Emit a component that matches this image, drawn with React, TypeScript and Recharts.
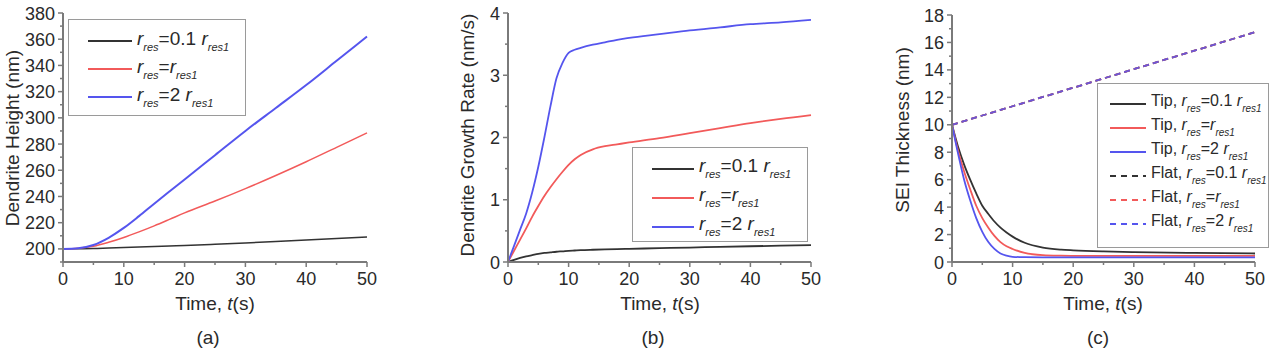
import React from 'react';
import { LineChart, Line, XAxis, YAxis, Legend } from 'recharts';

// ---------- data ----------
const timeA = [0, 2.5, 5, 7.5, 10, 12.5, 15, 17.5, 20, 25, 30, 35, 40, 45, 50];
const heightLow = [200, 200.1, 200.3, 200.6, 201, 201.4, 201.8, 202.2, 202.6, 203.5, 204.5, 205.6, 206.8, 207.9, 209];
const heightMid = [200, 200.5, 202, 205, 208.7, 213, 217.6, 222.5, 227.5, 236.5, 246, 256, 266.5, 277.5, 288.5];
const heightHigh = [200, 200.5, 203, 208.5, 216, 225, 234.5, 243.8, 253, 271.5, 290, 307.5, 325, 343.5, 362];

const timeB = [0, 1, 2, 3, 4, 5, 6, 7, 8, 9, 10, 11, 12, 14, 16, 18, 20, 25, 30, 35, 40, 45, 50];
const rateLow = [0, 0.035, 0.065, 0.09, 0.11, 0.13, 0.145, 0.155, 0.165, 0.172, 0.18, 0.185, 0.19, 0.197, 0.203, 0.208, 0.212, 0.222, 0.232, 0.243, 0.253, 0.262, 0.27];
const rateMid = [0, 0.18, 0.36, 0.54, 0.73, 0.9, 1.06, 1.2, 1.33, 1.45, 1.56, 1.65, 1.72, 1.81, 1.86, 1.89, 1.92, 1.99, 2.07, 2.15, 2.23, 2.3, 2.36];
const rateHigh = [0, 0.26, 0.52, 0.78, 1.12, 1.53, 2.0, 2.5, 2.95, 3.2, 3.36, 3.41, 3.44, 3.49, 3.53, 3.57, 3.6, 3.66, 3.72, 3.77, 3.82, 3.85, 3.89];

const timeC = [0, 1, 2, 3, 4, 5, 6, 7, 8, 9, 10, 12, 15, 18, 20, 25, 30, 40, 50];
const tipLow = [10, 8.4, 7.1, 6.0, 5.0, 4.1, 3.5, 2.95, 2.5, 2.15, 1.85, 1.4, 1.05, 0.9, 0.85, 0.77, 0.72, 0.66, 0.62];
const tipMid = [10, 8.1, 6.6, 5.3, 4.1, 3.2, 2.5, 1.9, 1.45, 1.15, 0.95, 0.66, 0.5, 0.46, 0.45, 0.44, 0.44, 0.44, 0.44];
const tipHigh = [10, 7.9, 6.0, 4.5, 3.2, 2.2, 1.45, 0.95, 0.62, 0.46, 0.38, 0.35, 0.34, 0.34, 0.34, 0.34, 0.34, 0.34, 0.34];
const timeFlat = [0, 10, 20, 30, 40, 50];
const flatLow = [10, 11.35, 12.7, 14.05, 15.4, 16.75];
const flatMid = [10, 11.35, 12.7, 14.05, 15.4, 16.75];
const flatHigh = [10, 11.35, 12.7, 14.05, 15.4, 16.75];

const xTicks = [0, 5, 10, 15, 20, 25, 30, 35, 40, 45, 50];
const yTicksA = [190, 200, 210, 220, 230, 240, 250, 260, 270, 280, 290, 300, 310, 320, 330, 340, 350, 360, 370, 380];
const yTicksB = [0, 0.5, 1, 1.5, 2, 2.5, 3, 3.5, 4];
const yTicksC = [0, 1, 2, 3, 4, 5, 6, 7, 8, 9, 10, 11, 12, 13, 14, 15, 16, 17, 18];

// ---------- styles ----------
const FONT = '"Liberation Sans", Arial, sans-serif';
const BLACK = '#333333';
const RED = '#f25a5a';
const BLUE = '#5555ee';
const AXIS = '#7a7a7a';
const TEXT = '#2a2a2a';

const build = (t: number[], ...series: number[][]) =>
  t.map((x, i) => {
    const row: Record<string, number> = { t: x };
    series.forEach((s, k) => (row['s' + k] = s[i]));
    return row;
  });

const dataA = build(timeA, heightLow, heightMid, heightHigh);
const dataB = build(timeB, rateLow, rateMid, rateHigh);
const dataCTip = build(timeC, tipLow, tipMid, tipHigh);
const dataCFlat = build(timeFlat, flatLow, flatMid, flatHigh);

const makeXTick = (isMajor: (v: number) => boolean) => (props: any) => {
  const { x, y, payload } = props;
  const major = isMajor(payload.value);
  return (
    <g>
      <line x1={x} y1={y} x2={x} y2={y + (major ? 5 : 3)} stroke={AXIS} strokeWidth={1.5} />
      {major && (
        <text x={x} y={y + 23} textAnchor="middle" fontFamily={FONT} fontSize={18} fill={TEXT}>
          {payload.value}
        </text>
      )}
    </g>
  );
};

const makeYTick = (isMajor: (v: number) => boolean) => (props: any) => {
  const { x, y, payload } = props;
  const major = isMajor(payload.value);
  return (
    <g>
      <line x1={x} y1={y} x2={x - (major ? 5 : 3)} y2={y} stroke={AXIS} strokeWidth={1.5} />
      {major && (
        <text x={x - 8} y={y + 6.5} textAnchor="end" fontFamily={FONT} fontSize={18} fill={TEXT}>
          {payload.value}
        </text>
      )}
    </g>
  );
};

const xTick = makeXTick((v) => v % 10 === 0);
const yTickA = makeYTick((v) => v % 20 === 0);
const yTickB = makeYTick((v) => Number.isInteger(v));
const yTickC = makeYTick((v) => v % 2 === 0);

// ---------- legend ----------
const Sub = ({ children, size }: { children: React.ReactNode; size: number }) => (
  <span style={{ fontSize: size, fontStyle: 'italic', position: 'relative', top: size * 0.55 }}>{children}</span>
);

const rLabel = (kind: string, size: number) => {
  const sub = Math.round(size * 0.6);
  return (
    <span>
      <i>r</i>
      <Sub size={sub}>res</Sub>
      {kind === '1' ? '=' : kind === '0.1' ? '=0.1 ' : '=2 '}
      <i>r</i>
      <Sub size={sub}>res1</Sub>
    </span>
  );
};

type LegendSpec = { kinds: string[]; prefixes: string[]; rowH: number; lineW: number; fontSize: number; padTop: number; padLeft: number };

const makeLegend = (spec: LegendSpec) => (props: any) => {
  const payload = props.payload || [];
  return (
    <div style={{ paddingTop: spec.padTop, paddingLeft: spec.padLeft, fontFamily: FONT, color: TEXT, fontSize: spec.fontSize }}>
      {payload.map((p: any, i: number) => {
        const dashed = p.payload && p.payload.strokeDasharray;
        return (
          <div key={i} style={{ height: spec.rowH, display: 'flex', alignItems: 'center', whiteSpace: 'nowrap', lineHeight: 1 }}>
            <svg width={spec.lineW} height={6} style={{ marginRight: 5 }}>
              <line x1={0} y1={3} x2={spec.lineW} y2={3} stroke={p.color} strokeWidth={2} strokeDasharray={dashed ? '6 5' : undefined} />
            </svg>
            <span style={{ position: 'relative', top: -3 }}>
              {spec.prefixes[i]}
              {rLabel(spec.kinds[i], spec.fontSize)}
            </span>
          </div>
        );
      })}
    </div>
  );
};

const legendBox = (left: number, top: number, width: number, height: number): React.CSSProperties => ({
  position: 'absolute',
  left,
  top,
  width,
  height,
  border: '1.5px solid #9a9a9a',
  background: '#fff',
  boxSizing: 'border-box',
});

const legendA = makeLegend({ kinds: ['0.1', '1', '2'], prefixes: ['', '', ''], rowH: 28, lineW: 44, fontSize: 19, padTop: 7, padLeft: 19 });
const legendB = makeLegend({ kinds: ['0.1', '1', '2'], prefixes: ['', '', ''], rowH: 29, lineW: 42, fontSize: 19, padTop: 6, padLeft: 19 });
const legendC = makeLegend({
  kinds: ['0.1', '1', '2', '0.1', '1', '2'],
  prefixes: ['Tip, ', 'Tip, ', 'Tip, ', 'Flat, ', 'Flat, ', 'Flat, '],
  rowH: 24,
  lineW: 36,
  fontSize: 16,
  padTop: 8,
  padLeft: 12,
});

const axisLine = { stroke: AXIS, strokeWidth: 2 };

export default function App() {
  return (
    <div style={{ position: 'absolute', left: 0, top: 0, width: 1280, height: 351, background: '#fff', overflow: 'hidden' }}>
      {/* Panel (a) */}
      <div style={{ position: 'absolute', left: 0, top: 0 }}>
        <LineChart width={430} height={351} data={dataA} margin={{ left: 62, right: 63, top: 13, bottom: 88 }}>
          <XAxis dataKey="t" type="number" domain={[0, 50]} ticks={xTicks} interval={0} tick={xTick} tickLine={false} tickSize={0} tickMargin={0} height={1} axisLine={axisLine} />
          <YAxis type="number" domain={[190, 380]} ticks={yTicksA} interval={0} tick={yTickA} tickLine={false} tickSize={0} tickMargin={0} width={1} axisLine={axisLine} />
          <Line type="monotone" dataKey="s0" name="1 low" stroke={BLACK} strokeWidth={1.5} dot={false} isAnimationActive={false} />
          <Line type="monotone" dataKey="s1" name="2 mid" stroke={RED} strokeWidth={1.5} dot={false} isAnimationActive={false} />
          <Line type="monotone" dataKey="s2" name="3 high" stroke={BLUE} strokeWidth={2} dot={false} isAnimationActive={false} />
          <Legend layout="vertical" align="center" verticalAlign="middle" content={legendA} wrapperStyle={legendBox(68, 19, 178, 97)} />
        </LineChart>
      </div>

      {/* Panel (b) */}
      <div style={{ position: 'absolute', left: 430, top: 0 }}>
        <LineChart width={425} height={351} data={dataB} margin={{ left: 77, right: 44, top: 13, bottom: 88 }}>
          <XAxis dataKey="t" type="number" domain={[0, 50]} ticks={xTicks} interval={0} tick={xTick} tickLine={false} tickSize={0} tickMargin={0} height={1} axisLine={axisLine} />
          <YAxis type="number" domain={[0, 4]} ticks={yTicksB} interval={0} tick={yTickB} tickLine={false} tickSize={0} tickMargin={0} width={1} axisLine={axisLine} />
          <Line type="monotone" dataKey="s0" name="1 low" stroke={BLACK} strokeWidth={1.8} dot={false} isAnimationActive={false} />
          <Line type="monotone" dataKey="s1" name="2 mid" stroke={RED} strokeWidth={1.8} dot={false} isAnimationActive={false} />
          <Line type="monotone" dataKey="s2" name="3 high" stroke={BLUE} strokeWidth={1.8} dot={false} isAnimationActive={false} />
          <Legend layout="vertical" align="center" verticalAlign="middle" content={legendB} wrapperStyle={legendBox(202, 147, 176, 95)} />
        </LineChart>
      </div>

      {/* Panel (c) */}
      <div style={{ position: 'absolute', left: 855, top: 0 }}>
        <LineChart width={425} height={351} margin={{ left: 96, right: 25, top: 15, bottom: 88 }}>
          <XAxis dataKey="t" type="number" domain={[0, 50]} ticks={xTicks} interval={0} tick={xTick} tickLine={false} tickSize={0} tickMargin={0} height={1} axisLine={axisLine} allowDuplicatedCategory={false} />
          <YAxis type="number" domain={[0, 18]} ticks={yTicksC} interval={0} tick={yTickC} tickLine={false} tickSize={0} tickMargin={0} width={1} axisLine={axisLine} />
          <Line data={dataCTip} type="monotone" dataKey="s0" name="1 tip-low" stroke={BLACK} strokeWidth={1.8} dot={false} isAnimationActive={false} />
          <Line data={dataCTip} type="monotone" dataKey="s1" name="2 tip-mid" stroke={RED} strokeWidth={1.8} dot={false} isAnimationActive={false} />
          <Line data={dataCTip} type="monotone" dataKey="s2" name="3 tip-high" stroke={BLUE} strokeWidth={1.8} dot={false} isAnimationActive={false} />
          <Line data={dataCFlat} type="linear" dataKey="s0" name="4 flat-low" stroke={BLACK} strokeWidth={1.8} strokeDasharray="6 4" dot={false} isAnimationActive={false} />
          <Line data={dataCFlat} type="linear" dataKey="s1" name="5 flat-mid" stroke={RED} strokeWidth={1.8} strokeDasharray="6 4" dot={false} isAnimationActive={false} />
          <Line data={dataCFlat} type="linear" dataKey="s2" name="6 flat-high" stroke={BLUE} strokeWidth={1.8} strokeDasharray="6 4" strokeOpacity={0.85} dot={false} isAnimationActive={false} />
          <Legend layout="vertical" align="center" verticalAlign="middle" content={legendC} wrapperStyle={legendBox(242, 83, 172, 165)} />
        </LineChart>
      </div>

      {/* Axis titles and panel labels */}
      <svg width={1280} height={351} style={{ position: 'absolute', left: 0, top: 0, pointerEvents: 'none' }} fontFamily={FONT} fill={TEXT}>
        <text transform="translate(19,138) rotate(-90)" textAnchor="middle" fontSize={19}>Dendrite Height (nm)</text>
        <text transform="translate(474,135) rotate(-90)" textAnchor="middle" fontSize={19}>Dendrite Growth Rate (nm/s)</text>
        <text transform="translate(909,130) rotate(-90)" textAnchor="middle" fontSize={19}>SEI Thickness (nm)</text>

        <text x={215} y={310} textAnchor="middle" fontSize={19}>Time, <tspan fontStyle="italic">t</tspan>(s)</text>
        <text x={660} y={310} textAnchor="middle" fontSize={19}>Time, <tspan fontStyle="italic">t</tspan>(s)</text>
        <text x={1103} y={310} textAnchor="middle" fontSize={19}>Time, <tspan fontStyle="italic">t</tspan>(s)</text>

        <text x={208} y={344} textAnchor="middle" fontSize={19}>(a)</text>
        <text x={653} y={344} textAnchor="middle" fontSize={19}>(b)</text>
        <text x={1098} y={344} textAnchor="middle" fontSize={19}>(c)</text>
      </svg>
    </div>
  );
}
